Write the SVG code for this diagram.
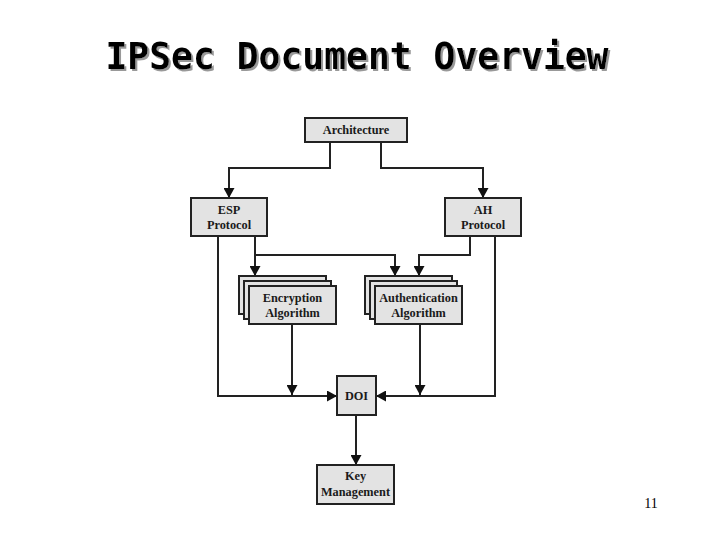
<svg xmlns="http://www.w3.org/2000/svg" width="720" height="540" viewBox="0 0 720 540">
<style>
.box{fill:#e3e3e3;stroke:#222;stroke-width:2}
.lbl{font-family:"Liberation Serif","Times New Roman",serif;font-weight:bold;font-size:12.3px;fill:#1a1a1a;text-anchor:middle}
.con{fill:none;stroke:#222;stroke-width:2}
.title{font-family:"DejaVu Sans Mono","Liberation Mono",monospace;font-weight:bold;font-size:37px}
</style>
<defs>
<marker id="ah" markerUnits="userSpaceOnUse" markerWidth="11" markerHeight="11" refX="10" refY="5.5" orient="auto">
<path d="M0,0 L10,5.5 L0,11 z" fill="#111"/>
</marker>
<filter id="shadow" x="-5%" y="-20%" width="110%" height="150%">
<feDropShadow dx="2" dy="2" stdDeviation="0.6" flood-color="#999" flood-opacity="1"/>
</filter>
</defs>
<rect width="720" height="540" fill="#fff"/>
<g id="title">
<text class="title" x="357" y="69" text-anchor="middle" textLength="503" lengthAdjust="spacingAndGlyphs" fill="#000" filter="url(#shadow)">IPSec Document Overview</text>
</g>
<g id="connectors">
<path class="con" d="M330,142 V168 H229 V198" marker-end="url(#ah)"/>
<path class="con" d="M381,142 V168 H483 V198" marker-end="url(#ah)"/>
<path class="con" d="M255,236 V276" marker-end="url(#ah)"/>
<path class="con" d="M255,255 H395 V276" marker-end="url(#ah)"/>
<path class="con" d="M470,236 V255 H419 V276" marker-end="url(#ah)"/>
<path class="con" d="M218,236 V396 H337" marker-end="url(#ah)"/>
<path class="con" d="M495,236 V396 H376" marker-end="url(#ah)"/>
<path class="con" d="M292,324 V395" marker-end="url(#ah)"/>
<path class="con" d="M420,324 V395" marker-end="url(#ah)"/>
<path class="con" d="M356,415 V465" marker-end="url(#ah)"/>
</g>
<g id="architecture">
<rect class="box" x="305" y="118" width="102" height="24"/>
<text class="lbl" x="356" y="134">Architecture</text>
</g>
<g id="esp">
<rect class="box" x="191" y="198" width="76" height="38"/>
<text class="lbl" x="229" y="214">ESP</text>
<text class="lbl" x="229" y="229">Protocol</text>
</g>
<g id="ah-protocol">
<rect class="box" x="445" y="198" width="76" height="38"/>
<text class="lbl" x="483" y="214">AH</text>
<text class="lbl" x="483" y="229">Protocol</text>
</g>
<g id="encryption">
<rect class="box" x="239" y="276" width="87" height="38"/>
<rect class="box" x="244" y="281" width="87" height="38"/>
<rect class="box" x="249" y="286" width="87" height="38"/>
<text class="lbl" x="292.5" y="302">Encryption</text>
<text class="lbl" x="292.5" y="317">Algorithm</text>
</g>
<g id="authentication">
<rect class="box" x="365" y="276" width="87" height="38"/>
<rect class="box" x="370" y="281" width="87" height="38"/>
<rect class="box" x="375" y="286" width="87" height="38"/>
<text class="lbl" x="418.5" y="302">Authentication</text>
<text class="lbl" x="418.5" y="317">Algorithm</text>
</g>
<g id="doi">
<rect class="box" x="337" y="376" width="39" height="39"/>
<text class="lbl" x="356.5" y="400">DOI</text>
</g>
<g id="key-management">
<rect class="box" x="317" y="465" width="77" height="39"/>
<text class="lbl" x="355.5" y="480">Key</text>
<text class="lbl" x="355.5" y="496">Management</text>
</g>
<text x="651" y="508" font-family="Liberation Serif, serif" font-size="14" text-anchor="middle" fill="#000">11</text>
</svg>
